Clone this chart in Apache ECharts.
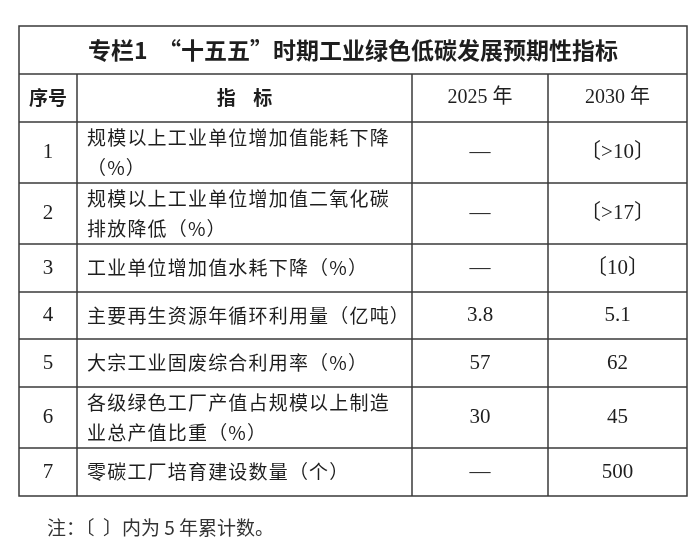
<!DOCTYPE html>
<html><head><meta charset="utf-8">
<script src="https://cdn.jsdelivr.net/npm/echarts@6/dist/echarts.min.js"></script>
<style>html,body{margin:0;padding:0;background:#fff}#c{width:700px;height:553px}</style>
</head><body><div id="c"></div>
<script>
const title = '专栏1  “十五五”时期工业绿色低碳发展预期性指标';
const headers = ['序号', '指    标', '2025 年', '2030 年'];
const seq = ['1', '2', '3', '4', '5', '6', '7'];
const indicators = [
  '规模以上工业单位增加值能耗下降\n（%）',
  '规模以上工业单位增加值二氧化碳\n排放降低（%）',
  '工业单位增加值水耗下降（%）',
  '主要再生资源年循环利用量（亿吨）',
  '大宗工业固废综合利用率（%）',
  '各级绿色工厂产值占规模以上制造\n业总产值比重（%）',
  '零碳工厂培育建设数量（个）'
];
const v2025 = ['—', '—', '—', '3.8', '57', '30', '—'];
const v2030 = ['〔>10〕', '〔>17〕', '〔10〕', '5.1', '62', '45', '500'];
const note = '注：〔  〕内为 5 年累计数。';

const colX = [19, 77, 412, 548, 687];
const rowY = [26, 74, 122, 183, 244, 292, 339, 387, 448, 496];
const lc = '#3a3a3a', tc = '#1e1e1e';
const cjk = '"Noto Sans CJK SC", sans-serif';
const serif = '"Liberation Serif", "Noto Sans CJK SC", serif';
const g = [];
const spaced = s => s.split('\n').map(l => Array.from(l).join('\u200A')).join('\n');
g.push({type:'rect', shape:{x:colX[0], y:rowY[0], width:colX[4]-colX[0], height:rowY[9]-rowY[0]}, style:{fill:'none', stroke:lc, lineWidth:1.5}});
for (let i = 1; i < 9; i++) g.push({type:'line', shape:{x1:colX[0], y1:rowY[i], x2:colX[4], y2:rowY[i]}, style:{stroke:lc, lineWidth:1.5}});
for (let j = 1; j < 4; j++) g.push({type:'line', shape:{x1:colX[j], y1:rowY[1], x2:colX[j], y2:rowY[9]}, style:{stroke:lc, lineWidth:1.5}});
function txt(s, x, y, opt) {
  g.push({type:'text', x:x, y:y, style:Object.assign({text:s, fill:tc, fontSize:19, fontFamily:cjk, align:'center', verticalAlign:'middle', lineHeight:30}, opt||{})});
}
txt(title, (colX[0]+colX[4])/2, (rowY[0]+rowY[1])/2, {fontSize:23, fontWeight:'bold'});
headers.forEach((h, j) => txt(h, (colX[j]+colX[j+1])/2, (rowY[1]+rowY[2])/2, j>=2 ? {fontSize:20, fontFamily:serif} : {fontWeight:'bold', fontSize:19}));
seq.forEach((s, i) => {
  const cy = (rowY[i+2]+rowY[i+3])/2;
  txt(s, (colX[0]+colX[1])/2, cy, {fontFamily:serif, fontSize:21});
  txt(spaced(indicators[i]), colX[1]+10, cy, {align:'left', fontSize:19});
  txt(v2025[i], (colX[2]+colX[3])/2, cy, {fontFamily:serif, fontSize:21});
  txt(v2030[i], (colX[3]+colX[4])/2, cy, {fontFamily:serif, fontSize:21});
});
txt(note, 47, 528, {align:'left', fontSize:19, fill:'#333'});
const chart = echarts.init(document.getElementById('c'));
chart.setOption({animation:false, graphic:{elements:g}});
</script></body></html>
